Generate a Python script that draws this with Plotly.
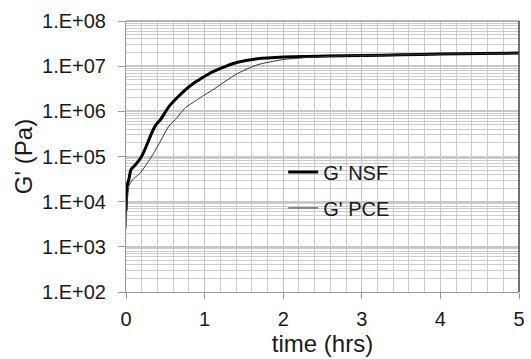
import plotly.graph_objects as go

# data
t_nsf = [0, 0.005, 0.01, 0.02, 0.03, 0.065, 0.1, 0.145, 0.19, 0.23, 0.28, 0.33,
         0.38, 0.44, 0.55, 0.65, 0.755, 0.86, 0.96, 1.1, 1.26, 1.42, 1.67, 2.01,
         2.55, 3.0, 3.5, 4.0, 4.5, 5.0]
g_nsf = [6.3e3, 1.2e4, 2.0e4, 2.5e4, 2.8e4, 5.2e4, 6.0e4, 7.4e4, 9.5e4, 1.3e5,
         2.1e5, 3.4e5, 5.0e5, 6.6e5, 1.3e6, 2.0e6, 3.0e6, 4.2e6, 5.4e6, 7.5e6,
         9.8e6, 1.22e7, 1.46e7, 1.6e7, 1.68e7, 1.72e7, 1.78e7, 1.85e7, 1.9e7, 1.95e7]

t_pce = [0, 0.005, 0.01, 0.02, 0.04, 0.08, 0.12, 0.17, 0.23, 0.29, 0.35, 0.42,
         0.545, 0.63, 0.755, 0.86, 0.96, 1.1, 1.26, 1.42, 1.67, 2.01, 2.3, 2.6,
         3.0, 3.5, 4.0, 4.5, 5.0]
g_pce = [2.5e3, 5.0e3, 8.0e3, 1.26e4, 2.3e4, 3.0e4, 3.5e4, 4.1e4, 5.6e4, 8.0e4,
         1.17e5, 1.9e5, 4.7e5, 6.6e5, 1.2e6, 1.6e6, 2.1e6, 2.95e6, 4.6e6, 6.9e6,
         1.07e7, 1.41e7, 1.55e7, 1.65e7, 1.72e7, 1.78e7, 1.85e7, 1.9e7, 1.95e7]

y_tickvals = [1e2, 1e3, 1e4, 1e5, 1e6, 1e7, 1e8]
y_ticktext = ["1.E+02", "1.E+03", "1.E+04", "1.E+05", "1.E+06", "1.E+07", "1.E+08"]
y_minor = [m * 10 ** e for e in range(2, 8) for m in range(2, 10)]
x_tickvals = [0, 1, 2, 3, 4, 5]

FONT = "Liberation Sans, Arial, sans-serif"

fig = go.Figure()
fig.add_trace(go.Scatter(x=t_nsf, y=g_nsf, mode="lines", name="G' NSF",
                         line=dict(color="black", width=3, shape="spline", smoothing=0.6),
                         legendgroup="a"))
fig.add_trace(go.Scatter(x=t_pce, y=g_pce, mode="lines", name="G' PCE",
                         line=dict(color="#333333", width=1, shape="spline", smoothing=0.6),
                         legendgroup="b"))

fig.update_layout(
    width=531, height=359,
    margin=dict(l=126, r=6, t=21, b=65),
    paper_bgcolor="white", plot_bgcolor="white",
    font=dict(family=FONT, size=20, color="#1a1a1a"),
    showlegend=True,
    legend=dict(x=0.40, y=0.515, xanchor="left", yanchor="top",
                bgcolor="rgba(0,0,0,0)", tracegroupgap=7,
                font=dict(size=20), traceorder="grouped"),
    xaxis=dict(range=[0, 5], tickvals=x_tickvals, ticks="outside", ticklen=6,
               tickcolor="#999", showline=True, linecolor="#999", linewidth=1,
               ticklabelstandoff=3,
               showgrid=True, gridcolor="#c4c4c4", gridwidth=1,
               minor=dict(dtick=0.2, showgrid=True, gridcolor="#cccccc", gridwidth=1, ticks=""),
               title=dict(text="time (hrs)", standoff=6),
               zeroline=False),
    yaxis=dict(type="log", range=[2, 8], tickmode="array", tickvals=y_tickvals,
               ticktext=y_ticktext, ticks="outside", ticklen=7, tickcolor="#999",
               showline=True, linecolor="#999", linewidth=1,
               ticklabelstandoff=8,
               showgrid=True, gridcolor="#c8c8c8", gridwidth=2,
               minor=dict(tickmode="array", tickvals=y_minor, showgrid=True,
                          gridcolor="#cccccc", gridwidth=1, ticks=""),
               title=dict(text="G' (Pa)", standoff=2),
               zeroline=False),
)
# dark top/right frame
fig.add_shape(type="line", xref="paper", yref="paper", x0=0, x1=1, y0=1, y1=1,
              line=dict(color="#666", width=1))
fig.add_shape(type="line", xref="paper", yref="paper", x0=1, x1=1, y0=0, y1=1,
              line=dict(color="#444", width=1.5))

fig.write_html("out.html")
